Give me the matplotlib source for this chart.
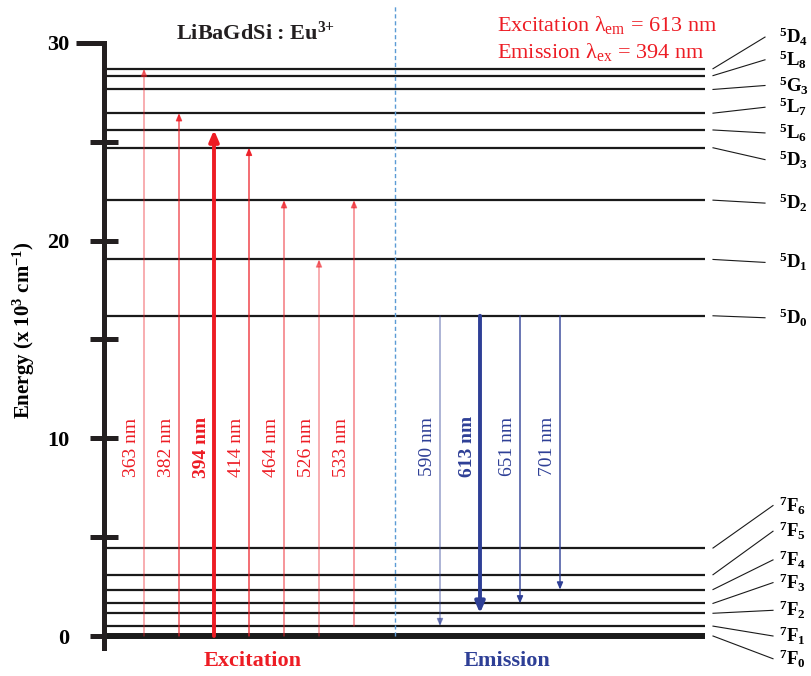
import matplotlib.pyplot as plt
import numpy as np

plt.rcParams["font.family"] = ["Liberation Serif", "DejaVu Serif"]
plt.rcParams["mathtext.fontset"] = "custom"
plt.rcParams["mathtext.rm"] = "Liberation Serif"
plt.rcParams["mathtext.it"] = "Liberation Serif:italic"
plt.rcParams["mathtext.bf"] = "Liberation Serif:bold"

# Eu3+ energy levels (10^3 cm^-1)
upper_terms = ["5D4", "5L8", "5G3", "5L7", "5L6", "5D3", "5D2", "5D1", "5D0"]
upper_energy = [28.7, 28.35, 27.65, 26.45, 25.6, 24.7, 22.05, 19.05, 16.2]
lower_terms = ["7F6", "7F5", "7F4", "7F3", "7F2", "7F1", "7F0"]
lower_energy = [4.45, 3.1, 2.35, 1.65, 1.15, 0.5, 0.0]

# excitation transitions (lambda_em = 613 nm)
exc_nm = [363, 382, 394, 414, 464, 526, 533]
exc_from = ["7F0", "7F0", "7F0", "7F0", "7F0", "7F0", "7F1"]
exc_to = ["5D4", "5L7", "5L6", "5D3", "5D2", "5D1", "5D2"]
exc_main = 394

# emission transitions (lambda_ex = 394 nm)
em_nm = [590, 613, 651, 701]
em_from = ["5D0", "5D0", "5D0", "5D0"]
em_to = ["7F1", "7F2", "7F3", "7F4"]
em_main = 613

energy = dict(zip(upper_terms + lower_terms, upper_energy + lower_energy))

# layout (x in pixels, y in energy units)
W, H = 812, 676
y_px0, y_px30 = 636, 43
scale = (y_px0 - y_px30) / 30
x_left, x_right = 105, 705
exc_x = 144 + 35 * np.arange(len(exc_nm))
em_x = 440 + 40 * np.arange(len(em_nm))
exc_alpha = [0.5, 0.8, 1.0, 0.9, 0.65, 0.5, 0.6]
em_alpha = [0.55, 1.0, 1.0, 1.0]
upper_label_y = [30.3, 29.15, 27.85, 26.75, 25.45, 24.1, 21.9, 18.9, 16.1]
lower_label_y = [6.6, 5.3, 3.85, 2.7, 1.3, -0.0, -1.15]

red = "#ed1c24"
blue = "#2e3f96"
dark = "#231f20"

fig = plt.figure(figsize=(W / 100, H / 100), dpi=100)
ax = fig.add_axes([0, 0, 1, 1])
ax.set_xlim(0, W)
ax.set_ylim(-(H - y_px0) / scale, y_px0 / scale)

# energy axis
for side in ("top", "right", "bottom"):
    ax.spines[side].set_visible(False)
ax.spines["left"].set_position(("data", 104))
ax.spines["left"].set_bounds(-0.62, 30)
ax.spines["left"].set_linewidth(3.6)
ax.spines["left"].set_color(dark)
ax.set_xticks([])
ax.set_yticks([0, 10, 20, 30])
ax.set_yticks([5, 15, 25], minor=True)
ax.tick_params(axis="y", which="both", direction="inout", length=20,
               width=3.6, color=dark, pad=15, labelsize=16)
for lab in ax.get_yticklabels():
    lab.set_fontweight("bold")
ax.yaxis.get_major_ticks()[-1].tick1line.set_visible(False)
ax.plot([76, 104], [30, 30], color=dark, lw=3.6, solid_capstyle="butt",
        clip_on=False)
ax.set_ylabel("Energy (x 10$^{\\mathbf{3}}$ cm$^{\\mathbf{-1}}$)",
              fontsize=15, fontweight="bold")
ax.yaxis.set_label_coords(37 / W, 1 - 330 / H)

# level lines
ax.hlines(upper_energy + lower_energy[:-1], x_left, x_right, color="#1a1a1a",
          lw=1.6)
ax.hlines(0, x_left, x_right, color="#1a1a1a", lw=4.3)


def term_label(t):
    return r"$\mathbf{{}^{" + t[0] + "}" + t[1] + "_{" + t[2:] + "}}$"


for terms, label_y, x_end in ((upper_terms, upper_label_y, 765),
                              (lower_terms, lower_label_y, 773)):
    for t, ly in zip(terms, label_y):
        ax.plot([713, x_end], [energy[t], ly], color="#1a1a1a", lw=0.8)
        ax.text(779, ly, term_label(t), fontsize=13.5, ha="left", va="center")

# divider between excitation and emission
ax.plot([395, 395], [0, (y_px0 - 5) / scale], color="#5b9bd5", lw=1,
        linestyle=(0, (3, 2)))


def arrow(x, y0, y1, color, alpha, strong):
    if strong:
        style, lw = "-|>,head_length=0.65,head_width=0.28", 2.8
    else:
        style, lw = "-|>,head_length=0.42,head_width=0.18", 1.0
    ax.annotate("", xy=(x, y1), xytext=(x, y0),
                arrowprops=dict(arrowstyle=style, color=color, lw=lw,
                                alpha=alpha, shrinkA=0, shrinkB=0,
                                mutation_scale=10))


for x, nm, a, b, al in zip(exc_x, exc_nm, exc_from, exc_to, exc_alpha):
    strong = nm == exc_main
    arrow(x, energy[a], energy[b], red, al, strong)
    ax.text(x - 12, 9.55, f"{nm} nm", rotation=90, ha="center", va="center",
            fontsize=14, color=red, fontweight="bold" if strong else "normal")

for x, nm, a, b, al in zip(em_x, em_nm, em_from, em_to, em_alpha):
    strong = nm == em_main
    arrow(x, energy[a], energy[b], blue, al, strong)
    ax.text(x - 12, 9.6, f"{nm} nm", rotation=90, ha="center", va="center",
            fontsize=14, color=blue, fontweight="bold" if strong else "normal")


def fig_text(x, y, s, **kw):
    fig.text(x / W, 1 - y / H, s, **kw)


fig_text(176, 33, "LiBaGdSi : Eu$^{\\mathbf{3{+}}}$", fontsize=16,
         fontweight="bold", ha="left", va="center", color=dark)
fig_text(497, 25, f"Excitation λ$_{{\\rm em}}$ = {em_main} nm", fontsize=16,
         color=red, ha="left", va="center")
fig_text(497, 52, f"Emission λ$_{{\\rm ex}}$ = {exc_main} nm", fontsize=16,
         color=red, ha="left", va="center")
fig_text(253, 661, "Excitation", fontsize=16, fontweight="bold", color=red,
         ha="center", va="center")
fig_text(507, 661, "Emission", fontsize=16, fontweight="bold", color=blue,
         ha="center", va="center")

fig.savefig("out.png", dpi=100)
